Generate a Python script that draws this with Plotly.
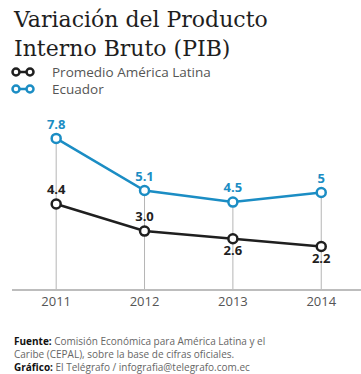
import plotly.graph_objects as go

# Datos: variación del PIB (%)
years = [2011, 2012, 2013, 2014]
latam = [4.4, 3.0, 2.6, 2.2]
ecuador = [7.8, 5.1, 4.5, 5.0]
latam_text_pos = ["top center", "top center", "bottom center", "bottom center"]

W, H = 361, 374
BLUE = "#1b8dc4"
DARK = "#1f1f1f"
FONT = "Open Sans"


def px(x):
    return x / W


def py(y):
    return 1 - y / H


fig = go.Figure()

# Líneas verticales desde el eje hasta el punto más alto de cada año
gx, gy = [], []
for yr, a, b in zip(years, latam, ecuador):
    gx += [yr, yr, None]
    gy += [0, max(a, b), None]
fig.add_trace(go.Scatter(x=gx, y=gy, mode="lines",
                         line=dict(color="#b5b5b5", width=1),
                         hoverinfo="skip", showlegend=False))

fig.add_trace(go.Scatter(
    x=years, y=latam, mode="lines+markers+text",
    line=dict(color=DARK, width=2.5),
    marker=dict(symbol="circle", size=9, color="white",
                line=dict(color=DARK, width=2.5)),
    text=[f"{v:.1f}" for v in latam], textposition=latam_text_pos,
    textfont=dict(family=FONT, size=13, color=DARK, weight="bold"),
    cliponaxis=False, showlegend=False))

fig.add_trace(go.Scatter(
    x=years, y=ecuador, mode="lines+markers+text",
    line=dict(color=BLUE, width=2.5),
    marker=dict(symbol="circle", size=9, color="white",
                line=dict(color=BLUE, width=2.5)),
    text=[f"{v:g}" for v in ecuador], textposition="top center",
    textfont=dict(family=FONT, size=13, color=BLUE, weight="bold"),
    cliponaxis=False, showlegend=False))

annotations = [
    dict(x=px(11), y=py(5), xref="paper", yref="paper",
         xanchor="left", yanchor="top", align="left", showarrow=False,
         text="Variación del Producto<br>Interno Bruto (PIB)",
         font=dict(family="DejaVu Serif", size=22, color="#1e1e1e")),
    dict(x=px(50), y=py(71.5), xref="paper", yref="paper",
         xanchor="left", yanchor="middle", showarrow=False,
         text="Promedio América Latina",
         font=dict(family=FONT, size=13.5, color="#555555")),
    dict(x=px(50), y=py(89.5), xref="paper", yref="paper",
         xanchor="left", yanchor="middle", showarrow=False,
         text="Ecuador",
         font=dict(family=FONT, size=13.5, color="#555555")),
    dict(x=px(12), y=py(332), xref="paper", yref="paper",
         xanchor="left", yanchor="top", align="left", showarrow=False,
         text=("<b style='color:#111'>Fuente:</b> Comisión Económica para América Latina y el<br>"
               "Caribe (CEPAL), sobre la base de cifras oficiales.<br>"
               "<b style='color:#111'>Gráfico:</b> El Telégrafo / infografia@telegrafo.com.ec"),
         font=dict(family=FONT, size=10, color="#666666")),
]

# Íconos de la leyenda: dos círculos unidos por una línea
shapes = []
for yc, col in [(72, DARK), (89, BLUE)]:
    shapes.append(dict(type="line", xref="paper", yref="paper",
                       x0=px(17), x1=px(29), y0=py(yc), y1=py(yc),
                       line=dict(color=col, width=2.5)))
    for cx in (16, 30):
        shapes.append(dict(type="circle", xref="paper", yref="paper",
                           x0=px(cx - 3.5), x1=px(cx + 3.5),
                           y0=py(yc + 3.5), y1=py(yc - 3.5),
                           fillcolor="white", line=dict(color=col, width=2.5)))

fig.update_layout(
    width=W, height=H,
    margin=dict(l=0, r=0, t=0, b=0),
    paper_bgcolor="white", plot_bgcolor="white",
    showlegend=False,
    annotations=annotations, shapes=shapes,
    xaxis=dict(domain=[px(12), 1], range=[2010.5, 2014.45],
               tickvals=years, ticktext=[str(y) for y in years],
               showgrid=False, zeroline=False,
               showline=True, linecolor="#bdbdbd", linewidth=1.5,
               ticks="", tickfont=dict(family=FONT, size=13, color="#555555")),
    yaxis=dict(domain=[1 - 289 / H, 1 - 110 / H], range=[0, 9.27],
               showgrid=False, zeroline=False, showticklabels=False,
               showline=False, ticks=""),
)

fig.write_html("out.html")
